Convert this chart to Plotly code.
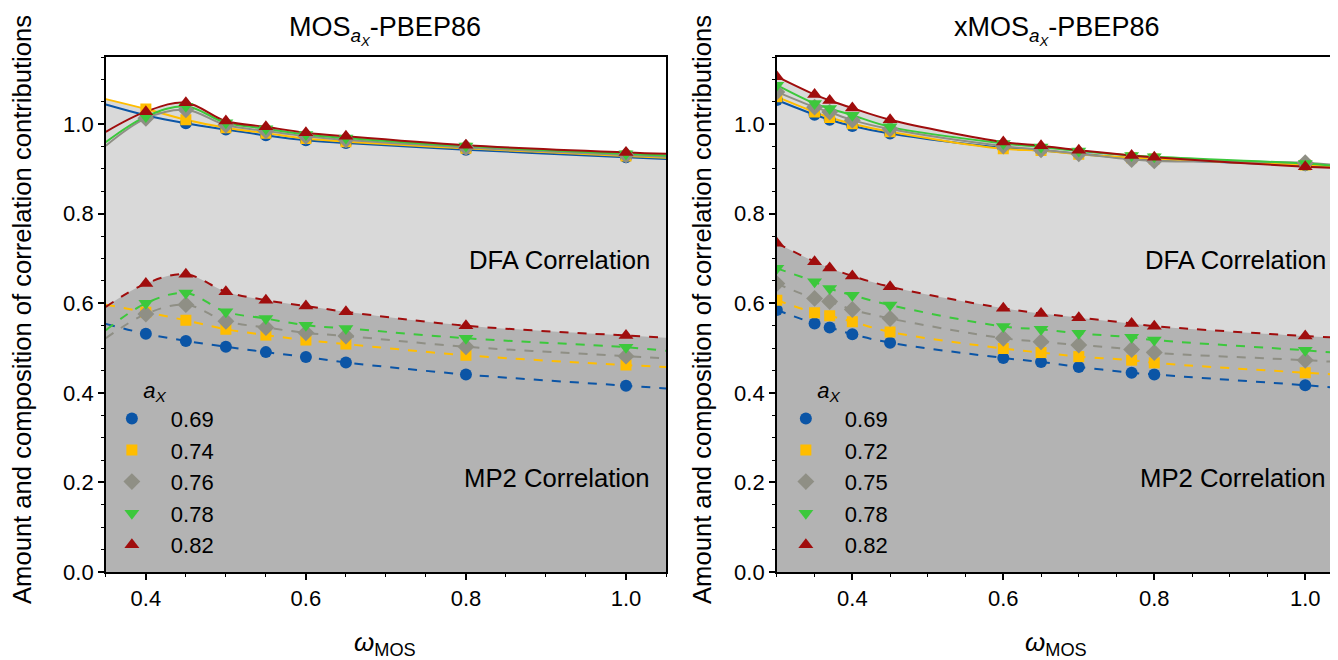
import plotly.graph_objects as go

# ---------------- data ----------------
AX_LEFT = ["0.69", "0.74", "0.76", "0.78", "0.82"]
AX_RIGHT = ["0.69", "0.72", "0.75", "0.78", "0.82"]

# Left panel (MOS_ax-PBEP86)
W_LEFT = [0.4, 0.45, 0.5, 0.55, 0.6, 0.65, 0.8, 1.0]
W_LEFT_EDGES = [0.35, 1.05]
# total correlation (solid lines)
L_TOT_A = [1.020, 1.002, 0.988, 0.975, 0.964, 0.958, 0.943, 0.926]
L_TOT_B = [1.034, 1.010, 0.992, 0.980, 0.968, 0.961, 0.946, 0.929]
L_TOT_C = [1.013, 1.032, 0.998, 0.985, 0.973, 0.965, 0.948, 0.931]
L_TOT_D = [1.017, 1.040, 1.003, 0.990, 0.977, 0.969, 0.951, 0.934]
L_TOT_E = [1.028, 1.048, 1.007, 0.994, 0.981, 0.973, 0.953, 0.937]
L_TOT_EDGE_VALUES = [[1.044, 0.922], [1.056, 0.925], [0.952, 0.927], [0.960, 0.930], [0.983, 0.934]]
# MP2 part (dashed lines)
L_MP2_A = [0.532, 0.516, 0.503, 0.491, 0.480, 0.468, 0.441, 0.416]
L_MP2_B = [0.580, 0.562, 0.542, 0.529, 0.518, 0.509, 0.484, 0.462]
L_MP2_C = [0.576, 0.597, 0.560, 0.546, 0.534, 0.527, 0.503, 0.482]
L_MP2_D = [0.600, 0.623, 0.581, 0.566, 0.551, 0.544, 0.522, 0.502]
L_MP2_E = [0.644, 0.665, 0.626, 0.607, 0.594, 0.581, 0.550, 0.528]
L_MP2_EDGE_VALUES = [[0.554, 0.410], [0.597, 0.458], [0.522, 0.477], [0.540, 0.494], [0.592, 0.523]]

# Right panel (xMOS_ax-PBEP86)
W_RIGHT = [0.3, 0.35, 0.37, 0.4, 0.45, 0.6, 0.65, 0.7, 0.77, 0.8, 1.0]
W_RIGHT_EDGE = 1.05
R_TOT_A = [1.054, 1.021, 1.010, 0.996, 0.979, 0.947, 0.941, 0.934, 0.924, 0.921, 0.908]
R_TOT_B = [1.061, 1.027, 1.015, 1.001, 0.983, 0.945, 0.941, 0.933, 0.925, 0.922, 0.909]
R_TOT_C = [1.072, 1.038, 1.027, 1.009, 0.989, 0.951, 0.943, 0.934, 0.921, 0.918, 0.914]
R_TOT_D = [1.087, 1.046, 1.035, 1.020, 0.994, 0.957, 0.949, 0.940, 0.930, 0.927, 0.912]
R_TOT_E = [1.106, 1.066, 1.053, 1.036, 1.010, 0.960, 0.952, 0.942, 0.930, 0.926, 0.905]
R_TOT_EDGE_VALUES = [0.904, 0.905, 0.907, 0.905, 0.902]
R_MP2_A = [0.585, 0.555, 0.546, 0.531, 0.512, 0.478, 0.469, 0.458, 0.445, 0.441, 0.417]
R_MP2_B = [0.607, 0.579, 0.572, 0.559, 0.536, 0.499, 0.490, 0.481, 0.473, 0.467, 0.445]
R_MP2_C = [0.644, 0.611, 0.604, 0.586, 0.566, 0.522, 0.514, 0.507, 0.497, 0.490, 0.473]
R_MP2_D = [0.678, 0.648, 0.633, 0.618, 0.596, 0.548, 0.542, 0.533, 0.524, 0.518, 0.495]
R_MP2_E = [0.734, 0.693, 0.679, 0.661, 0.637, 0.589, 0.577, 0.568, 0.555, 0.549, 0.527]
R_MP2_EDGE_VALUES = [0.410, 0.440, 0.468, 0.488, 0.523]

# ---------------- styles ----------------
COLORS = ["#0b55a6", "#ffbd00", "#8f8f85", "#3cc83c", "#a00d0d"]
SYMBOLS = ["circle", "square", "diamond", "triangle-down", "triangle-up"]
SIZES = [12, 11, 13, 13, 13]
LIGHT = "#d9d9d9"
DARK = "#b3b3b3"
FONT = "Liberation Sans"

fig = go.Figure()

def add_panel(xa, ya, legend, labels, w, tots, mp2s, left_x, left_tot, left_mp2, right_x, right_tot, right_mp2):
    def line(i, vals, kind):
        xs = list(w)
        ys = list(vals)
        lv = left_tot if kind == "tot" else left_mp2
        rv = right_tot if kind == "tot" else right_mp2
        if lv is not None:
            xs = [left_x] + xs
            ys = [lv[i]] + ys
        xs = xs + [right_x]
        ys = ys + [rv[i]]
        return xs, ys

    for kind, col, series in (("tot", LIGHT, tots), ("mp2", DARK, mp2s)):
        for i, vals in enumerate(series):
            xs, ys = line(i, vals, kind)
            fig.add_trace(go.Scatter(x=xs, y=ys, mode="lines", line=dict(width=0, shape="spline"),
                                     fill="tozeroy", fillcolor=col, hoverinfo="skip",
                                     showlegend=False, xaxis=xa, yaxis=ya))
    for kind, dash, series in (("tot", "solid", tots), ("mp2", "dash", mp2s)):
        for i, vals in enumerate(series):
            xs, ys = line(i, vals, kind)
            fig.add_trace(go.Scatter(x=xs, y=ys, mode="lines",
                                     line=dict(color=COLORS[i], width=2, dash=dash, shape="spline"),
                                     showlegend=False, xaxis=xa, yaxis=ya))
    for i in range(5):
        fig.add_trace(go.Scatter(x=list(w) + list(w), y=list(tots[i]) + list(mp2s[i]), mode="markers",
                                 marker=dict(symbol=SYMBOLS[i], size=SIZES[i], color=COLORS[i]),
                                 name=labels[i], legend=legend, legendgroup=legend + labels[i],
                                 xaxis=xa, yaxis=ya))

add_panel("x", "y", "legend", AX_LEFT, W_LEFT,
          [L_TOT_A, L_TOT_B, L_TOT_C, L_TOT_D, L_TOT_E],
          [L_MP2_A, L_MP2_B, L_MP2_C, L_MP2_D, L_MP2_E],
          W_LEFT_EDGES[0], [v[0] for v in L_TOT_EDGE_VALUES], [v[0] for v in L_MP2_EDGE_VALUES],
          W_LEFT_EDGES[1], [v[1] for v in L_TOT_EDGE_VALUES], [v[1] for v in L_MP2_EDGE_VALUES])

add_panel("x2", "y2", "legend2", AX_RIGHT, W_RIGHT,
          [R_TOT_A, R_TOT_B, R_TOT_C, R_TOT_D, R_TOT_E],
          [R_MP2_A, R_MP2_B, R_MP2_C, R_MP2_D, R_MP2_E],
          None, None, None,
          W_RIGHT_EDGE, R_TOT_EDGE_VALUES, R_MP2_EDGE_VALUES)

# page has an 8px body margin: work in screen coordinates and subtract it
S = 8
W, H = 1338 - S, 660 - S
TOP, BOT = 57 - S, 572 - S          # plot area top / bottom in figure px
L0, L1 = 106 - S, 667 - S
R0, R1 = 778 - S, 1338 - S

def px(xs):  # screen x -> paper x
    return (xs - S) / W

def py(ys):  # screen y -> paper y
    return (BOT - (ys - S)) / (BOT - TOP)

axis_common = dict(showline=True, linecolor="black", linewidth=1.5, mirror=True,
                   ticks="outside", ticklen=6, tickwidth=1.5, tickcolor="black",
                   showgrid=False, zeroline=False,
                   tickfont=dict(family=FONT, size=22, color="black"),
                   minor=dict(ticks="outside", ticklen=3.5, tickwidth=1, tickcolor="black", dtick=0.05, showgrid=False))

leg_common = dict(xanchor="left", yanchor="top", bgcolor="rgba(0,0,0,0)", borderwidth=0,
                  traceorder="grouped", tracegroupgap=0, itemwidth=68,
                  font=dict(family=FONT, size=22, color="black"),
                  title=dict(text="\u2003\u2003\u2009<i>a<sub>X</sub></i>", font=dict(family=FONT, size=22)))

fig.update_layout(
    width=W, height=H, margin=dict(l=0, r=0, t=TOP, b=H - BOT),
    paper_bgcolor="white", plot_bgcolor="white",
    font=dict(family=FONT, color="black"),
    xaxis=dict(domain=[L0 / W, L1 / W], range=[0.35, 1.05], tickvals=[0.4, 0.6, 0.8, 1.0],
               ticktext=["0.4", "0.6", "0.8", "1.0"], anchor="y", **axis_common),
    yaxis=dict(domain=[0, 1], range=[0, 1.15], tickvals=[0, 0.2, 0.4, 0.6, 0.8, 1.0],
               ticktext=["0.0", "0.2", "0.4", "0.6", "0.8", "1.0"], anchor="x", **axis_common),
    xaxis2=dict(domain=[R0 / W, 1.0], range=[0.3, 0.3 + (R1 - R0) / 756.0], tickvals=[0.4, 0.6, 0.8, 1.0],
                ticktext=["0.4", "0.6", "0.8", "1.0"], anchor="y2", **axis_common),
    yaxis2=dict(domain=[0, 1], range=[0, 1.15], tickvals=[0, 0.2, 0.4, 0.6, 0.8, 1.0],
                ticktext=["0.0", "0.2", "0.4", "0.6", "0.8", "1.0"], anchor="x2", **axis_common),
    legend=dict(x=px(93), y=py(369), **leg_common),
    legend2=dict(x=px(768), y=py(369), **leg_common),
)

ann_font = dict(family=FONT, size=25.7, color="black")
annotations = []
for xr, yr, xd in (("x domain", "y", 0.975), ("x2 domain", "y2", 0.985)):
    annotations.append(dict(text="DFA Correlation", x=xd, y=0.696, xref=xr, yref=yr,
                            xanchor="right", yanchor="middle", showarrow=False, font=ann_font))
    annotations.append(dict(text="MP2 Correlation", x=xd, y=0.21, xref=xr, yref=yr,
                            xanchor="right", yanchor="middle", showarrow=False, font=ann_font))
for cx, txt in ((386, "MOS<sub><i>a<sub>X</sub></i></sub>-PBEP86"),
                (1058, "xMOS<sub><i>a<sub>X</sub></i></sub>-PBEP86")):
    annotations.append(dict(text=txt, x=px(cx), y=py(30), xref="paper", yref="paper",
                            xanchor="center", yanchor="middle", showarrow=False,
                            font=dict(family=FONT, size=27, color="black")))
    annotations.append(dict(text="<i>ω</i><sub>MOS</sub>", x=px(cx), y=py(643), xref="paper", yref="paper",
                            xanchor="center", yanchor="middle", showarrow=False,
                            font=dict(family=FONT, size=26, color="black")))
for xs in (22, 703):
    annotations.append(dict(text="Amount and composition of correlation contributions", x=px(xs), y=py(309),
                            xref="paper", yref="paper", xanchor="center", yanchor="middle", textangle=-90,
                            showarrow=False, font=dict(family=FONT, size=25.6, color="black")))
fig.update_layout(annotations=annotations)

fig.write_html("out.html")
